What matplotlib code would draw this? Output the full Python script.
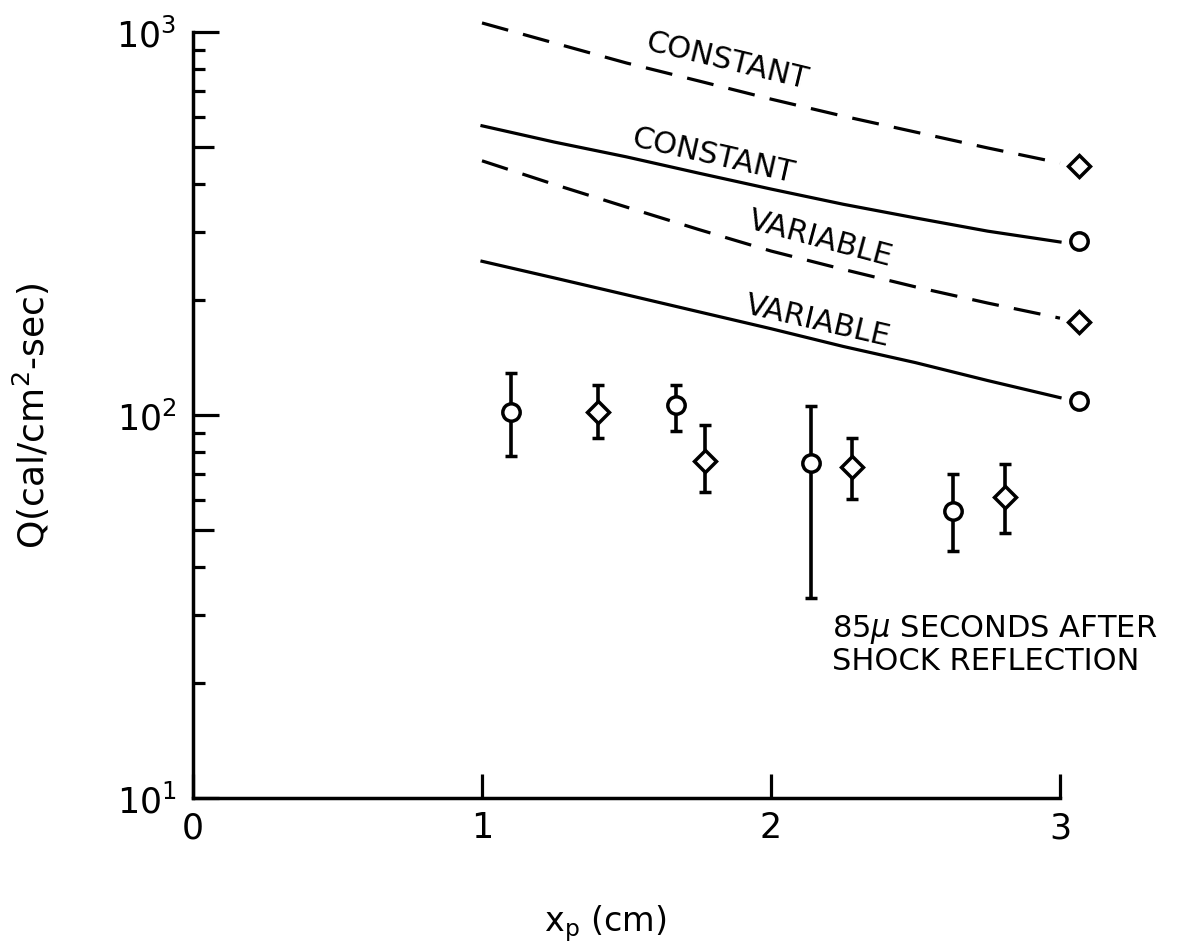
import matplotlib
matplotlib.use("Agg")
import matplotlib.pyplot as plt
from matplotlib.ticker import FixedLocator, NullFormatter, LogLocator

plt.rcParams['font.family'] = ['DejaVu Sans']
plt.rcParams['mathtext.fontset'] = 'dejavusans'

# measured heat flux points (circle / diamond sets)
x_circ = [1.10, 1.67, 2.14, 2.63]
q_circ = [102, 106, 75, 56]
q_circ_lo = [78.3, 90.7, 33.2, 44.2]
q_circ_hi = [128.5, 119.8, 105.7, 70.3]

x_diam = [1.40, 1.77, 2.28, 2.81]
q_diam = [101.6, 76, 73, 61.2]
q_diam_lo = [87.0, 62.8, 60.3, 49.2]
q_diam_hi = [120.0, 94.2, 87.1, 74.5]

# theory curves
x_curve = [1.0, 1.25, 1.5, 1.75, 2.0, 2.25, 2.5, 2.75, 3.0]
q_const_dash = [1056, 936, 830, 745, 668, 603, 548, 498, 455]
q_const_solid = [569, 516, 472, 428, 389, 355, 327, 302, 283]
q_var_dash = [461, 400, 349, 305, 268, 240, 216, 196, 179]
q_var_solid = [252, 228, 206, 186, 168, 151, 137, 123, 111]

# end symbols at the right of the curves
x_end = 3.066
q_end_diam = [448, 175]
q_end_circ = [284, 109]

fig = plt.figure(figsize=(11.96, 9.45), dpi=100)
ax = fig.add_axes([193/1196, 1-799/945, 867/1196, 766/945])
ax.set_yscale('log')
ax.set_xlim(0, 3)
ax.set_ylim(10, 1000)

lw = 2.3
dash = (0, (8.5, 4.8))
ax.plot(x_curve, q_const_dash, color='black', lw=lw, ls=dash, clip_on=False)
ax.plot(x_curve, q_const_solid, color='black', lw=lw, clip_on=False)
ax.plot(x_curve, q_var_dash, color='black', lw=lw, ls=dash, clip_on=False)
ax.plot(x_curve, q_var_solid, color='black', lw=lw, clip_on=False)

mk = dict(ls='none', mfc='white', mec='black', mew=2.5, clip_on=False)
ax.plot([x_end]*2, q_end_diam, marker='D', ms=11.5, **mk)
ax.plot([x_end]*2, q_end_circ, marker='o', ms=12.5, **mk)

err_c = [[q - lo for q, lo in zip(q_circ, q_circ_lo)],
         [hi - q for q, hi in zip(q_circ, q_circ_hi)]]
err_d = [[q - lo for q, lo in zip(q_diam, q_diam_lo)],
         [hi - q for q, hi in zip(q_diam, q_diam_hi)]]
ekw = dict(mfc='white', mec='black', mew=2.5, ecolor='black', elinewidth=2.6,
           capsize=4.5, capthick=2.6, zorder=3)
ax.errorbar(x_circ, q_circ, yerr=err_c, fmt='o', ms=12.5, **ekw)
ax.errorbar(x_diam, q_diam, yerr=err_d, fmt='D', ms=11.5, **ekw)

# curve labels, sitting just above their lines
tkw = dict(fontsize=22, ha='center', va='center', rotation_mode='anchor')
ax.text(1.848, 845, 'CONSTANT', rotation=-13.6, **tkw)
ax.text(1.799, 478, 'CONSTANT', rotation=-12.8, **tkw)
ax.text(2.17, 290, 'VARIABLE', rotation=-15.0, **tkw)
ax.text(2.163, 177, 'VARIABLE', rotation=-13.0, **tkw)

ax.text(0.737, 0.243, '85$\\mu$ SECONDS AFTER\nSHOCK REFLECTION', transform=ax.transAxes,
        fontsize=22, ha='left', va='top', linespacing=1.05)

# axes styling
for s in ['top', 'right']:
    ax.spines[s].set_visible(False)
for s in ['left', 'bottom']:
    ax.spines[s].set_linewidth(2.5)

ax.set_xticks([0, 1, 2, 3])
ax.set_xticklabels(['0', '1', '2', '3'])
ax.tick_params(axis='x', direction='in', length=17, width=2.3, labelsize=25, pad=9)

ax.yaxis.set_major_locator(FixedLocator([10, 100, 1000]))
ax.set_yticklabels(['$10^{1}$', '$10^{2}$', '$10^{3}$'])
ax.yaxis.set_minor_locator(LogLocator(base=10, subs=[2, 3, 4, 6, 7, 8, 9]))
ax.yaxis.set_minor_formatter(NullFormatter())
ax.tick_params(axis='y', which='major', direction='in', length=19, width=2.3,
               labelsize=25, pad=12)
ax.tick_params(axis='y', which='minor', direction='in', length=8.5, width=2.3)

# longer ticks at 50 and 500
ax2 = ax.twinx()
ax2.set_yscale('log')
ax2.set_ylim(ax.get_ylim())
ax2.yaxis.set_ticks_position('left')
ax2.yaxis.set_major_locator(FixedLocator([50, 500]))
ax2.yaxis.set_minor_locator(FixedLocator([]))
ax2.yaxis.set_major_formatter(NullFormatter())
ax2.tick_params(axis='y', direction='in', length=15, width=2.3)
for s in ax2.spines.values():
    s.set_visible(False)

ax.set_xlabel('x$_{\\mathrm{p}}$ (cm)', fontsize=24)
ax.xaxis.set_label_coords(0.475, -0.136)
ax.set_ylabel('Q(cal/cm$^{2}$-sec)', fontsize=26)
ax.yaxis.set_label_coords(-0.163, 0.5)

fig.savefig('out.png', dpi=100)
